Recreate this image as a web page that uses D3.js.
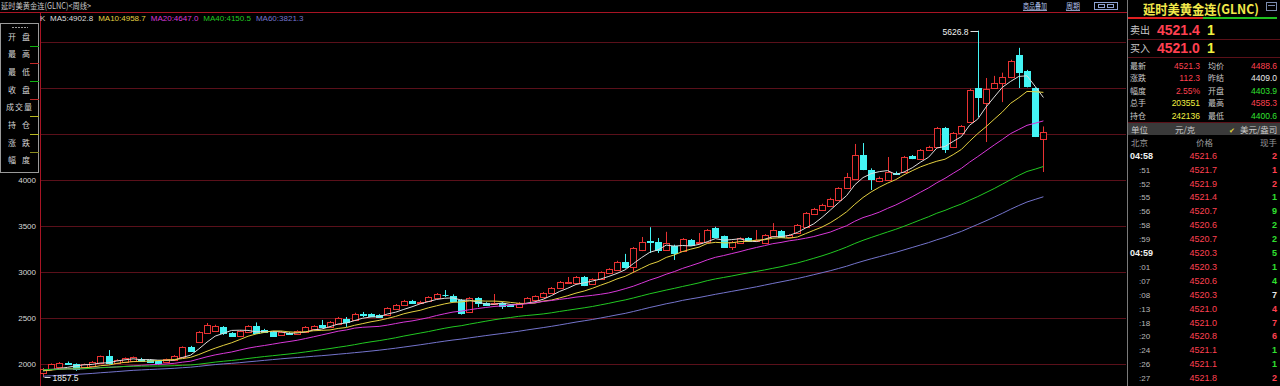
<!DOCTYPE html>
<html>
<head>
<meta charset="utf-8">
<script src="https://cdn.jsdelivr.net/npm/d3@7"></script>
<style>
  html, body { margin: 0; padding: 0; background: #000; overflow: hidden; }
  svg { display: block; }
  text { font-family: "Liberation Sans", Arial, sans-serif; }
  .cjk { font-family: "Noto Sans CJK SC", sans-serif; }
</style>
</head>
<body>
<div id="chart"></div>
<script>
// weekly candles, oldest first
const open = [
  1905,1949,1971,2014,2003,1971,1981,2014,2090,2014,
  2025,2036,2060,2047,2036,2025,2047,2079,2188,2242,
  2340,2365,2406,2340,2308,2351,2416,2373,2351,2319,
  2340,2329,2351,2384,2427,2406,2438,2492,2482,2547,
  2547,2536,2536,2601,2645,2688,2666,2688,2721,2755,
  2742,2699,2569,2721,2666,2660,2666,2645,2623,2666,
  2699,2731,2775,2829,2883,2883,2949,2873,2927,2992,
  3025,3112,3058,3242,3340,3329,3242,3286,3232,3351,
  3318,3329,3481,3394,3275,3318,3373,3340,3318,3394,
  3450,3384,3427,3492,3633,3677,3720,3786,3916,4014,
  4275,4112,3990,4003,4080,4090,4264,4231,4329,4362,
  4568,4362,4514,4633,5003,4840,5003,5058,5123,5362,
  5188,5003,4449
];
const high = [
  1960,2010,2025,2030,2010,2008,2035,2095,2155,2055,
  2075,2085,2070,2055,2045,2062,2100,2195,2200,2360,
  2449,2430,2415,2350,2370,2425,2455,2385,2360,2360,
  2350,2370,2415,2425,2482,2470,2515,2514,2560,2569,
  2555,2545,2620,2655,2700,2700,2690,2740,2775,2807,
  2760,2710,2730,2730,2675,2764,2675,2655,2675,2730,
  2750,2785,2840,2905,2949,2960,2960,2935,3010,3045,
  3125,3200,3275,3384,3490,3373,3440,3300,3372,3362,
  3427,3470,3495,3400,3340,3380,3382,3460,3415,3535,
  3460,3415,3525,3655,3700,3745,3810,3925,4080,4395,
  4405,4130,4040,4253,4095,4265,4275,4340,4375,4580,
  4580,4525,4600,4995,5626.8,5112,5135,5170,5310,5440,
  5200,5010,4585.3
];
const low = [
  1857.5,1935,1960,1995,1930,1965,1975,2008,2000,2005,
  2020,2030,2030,2015,1995,2018,2040,2075,2145,2235,
  2330,2355,2320,2300,2300,2345,2335,2345,2300,2310,
  2320,2320,2345,2375,2400,2400,2430,2406,2475,2514,
  2515,2505,2530,2595,2640,2655,2660,2680,2715,2731,
  2680,2540,2560,2623,2635,2650,2601,2625,2612,2660,
  2690,2725,2765,2820,2875,2875,2850,2865,2920,2985,
  3015,3040,2992,3230,3210,3210,3235,3134,3225,3290,
  3310,3320,3375,3265,3242,3310,3330,3335,3310,3385,
  3375,3375,3420,3485,3625,3670,3710,3775,3905,4005,
  4110,3895,3980,3995,4060,4080,4230,4220,4320,4355,
  4297,4350,4505,4625,4688,4416,4995,4850,5110,5003,
  5010,4470,4090
];
const close = [
  1949,2003,2014,2003,1949,2003,2025,2090,2014,2047,
  2068,2079,2040,2025,2014,2055,2090,2188,2150,2351,
  2427,2416,2340,2308,2362,2416,2340,2355,2308,2351,
  2330,2362,2406,2416,2406,2460,2503,2460,2547,2536,
  2525,2514,2612,2645,2688,2666,2677,2731,2764,2750,
  2688,2558,2721,2666,2645,2670,2634,2634,2666,2721,
  2742,2775,2829,2894,2894,2949,2862,2927,3003,3036,
  3112,3058,3264,3329,3325,3242,3318,3210,3362,3297,
  3329,3460,3384,3275,3329,3373,3340,3351,3405,3460,
  3384,3405,3514,3644,3688,3731,3797,3916,4036,4275,
  4123,4014,4025,4090,4068,4253,4242,4329,4362,4568,
  4340,4514,4590,4981,4905,4990,5058,5123,5297,5177,
  5025,4481,4521.3
];
// closes of the weeks before the first visible bar (only feed the moving averages)
const priorCloses = [
  1720,1725,1675,1680,1690,1700,1650,1660,1640,1645,
  1680,1770,1760,1755,1810,1800,1810,1800,1805,1826,
  1870,1900,1930,1930,1880,1875,1850,1815,1860,1870,
  1990,1995,1985,2010,2005,1990,2000,2025,2020,1980,
  1945,1970,1975,1970,1925,1930,1935,1960,1965,1960,
  1945,1935,1915,1920,1965,1945,1935,1945,1866
];

const maPeriods = [5, 10, 20, 40, 60];
const maLegend = ["4902.8", "4958.7", "4647.0", "4150.5", "3821.3"];
const yTicks = [2000, 2500, 3000, 3500, 4000];
const gridLevels = [2000, 2500, 3000, 3500, 4000, 4500, 5000, 5500];

const sideLabels = [["开","盘"],["最","高"],["最","低"],["收","盘"],["成","交","量"],["持","仓"],["涨","跌"],["幅","度"]];

const askPrice = "4521.4", askVol = "1", bidPrice = "4521.0", bidVol = "1";
const prevSettle = 4409.0;
const quoteNames = ["最新","均价","涨跌","昨结","幅度","开盘","总手","最高","持仓","最低"];
const quoteValues = ["4521.3","4488.6","112.3","4409.0","2.55%","4403.9","203551","4585.3","242136","4400.6"];

const tickTimes = ["04:58",":51",":52",":55",":56",":58",":59","04:59",":01",":07",":08",":13",":18",":20",":24",":26",":27"];
const tickPrices = [4521.6,4521.7,4521.9,4521.4,4520.7,4520.6,4520.7,4520.3,4520.3,4520.6,4520.3,4521.0,4521.0,4520.8,4521.1,4521.1,4521.8];
const tickVols = [2,1,2,1,9,2,2,5,1,4,7,4,7,6,1,1,2];
const tickSides = ["B","B","B","S","S","S","S","S","S","S","N","B","B","B","S","S","B"];

(function weekly() {
  const width = 1280, height = 386;
  const plotL = 40, plotR = 1127, plotT = 12;

  const RED = "#ff4050", GREEN = "#30e030", YELLOW = "#f0f040", WHITE = "#e8e8e8";
  const upColor = "#e83232", downColor = "#44f4f4";
  const maColors = ["#dcdcdc", "#e4d040", "#d838d8", "#22c822", "#7474cc"];

  const svg = d3.select("#chart").append("svg")
    .attr("width", width).attr("height", height);

  svg.append("rect").attr("width", width).attr("height", height).attr("fill", "#000");

  const x = d3.scaleLinear().domain([0, close.length - 1]).range([43, 1043.4]);
  const y = d3.scaleLinear().domain([2000, 4000]).range([364.3, 180.3]);

  // grid
  svg.append("g").selectAll("line").data(gridLevels).join("line")
    .attr("x1", plotL + 1).attr("x2", plotR - 1)
    .attr("y1", d => Math.round(y(d)) + 0.5).attr("y2", d => Math.round(y(d)) + 0.5)
    .attr("stroke", "#5a101a");

  // y axis
  const ax = svg.append("g")
    .attr("transform", `translate(${plotL - 3},0)`)
    .call(d3.axisLeft(y).tickValues(yTicks).tickSize(0).tickPadding(1).tickFormat(d3.format("d")));
  ax.select(".domain").remove();
  ax.selectAll("text")
    .attr("fill", "#d8d8d8")
    .attr("font-size", 8)
    .attr("font-family", "Liberation Sans, Arial, sans-serif");

  // frame lines
  svg.append("line").attr("x1", 0).attr("x2", plotR).attr("y1", plotT + 0.5).attr("y2", plotT + 0.5)
    .attr("stroke", "#a81424");
  svg.append("line").attr("x1", plotL + 0.5).attr("x2", plotL + 0.5).attr("y1", plotT).attr("y2", height)
    .attr("stroke", "#a81424");

  // candles
  const data = close.map((c, i) => ({ i, o: open[i], h: high[i], l: low[i], c }));
  const cg = svg.append("g");
  data.forEach(d => {
    const up = d.c > d.o;
    const col = up ? upColor : downColor;
    const cx = Math.round(x(d.i)) + 0.5;
    const top = Math.round(y(Math.max(d.o, d.c))) + 0.5;
    let bot = Math.round(y(Math.min(d.o, d.c))) + 0.5;
    cg.append("line")
      .attr("x1", cx).attr("x2", cx)
      .attr("y1", y(d.h)).attr("y2", y(d.l))
      .attr("stroke", col);
    if (bot - top < 1) {
      cg.append("line")
        .attr("x1", cx - 3).attr("x2", cx + 3)
        .attr("y1", top).attr("y2", top)
        .attr("stroke", col);
    } else {
      cg.append("rect")
        .attr("x", cx - 3).attr("y", top)
        .attr("width", 6).attr("height", bot - top)
        .attr("fill", up ? "#000" : downColor)
        .attr("stroke", col);
    }
  });

  // moving averages
  const allClose = priorCloses.concat(close);
  const off = priorCloses.length;
  maPeriods.forEach((n, k) => {
    const vals = close.map((c, i) => d3.mean(allClose.slice(i + off - n + 1, i + off + 1)));
    const line = d3.line().x((v, i) => x(i)).y(v => y(v));
    svg.append("path")
      .datum(vals)
      .attr("fill", "none")
      .attr("stroke", maColors[k])
      .attr("stroke-width", 1)
      .attr("d", line);
  });

  // high / low markers
  const hi = d3.maxIndex(high), lo = d3.minIndex(low);
  const hx = Math.round(x(hi)) + 0.5, hy = Math.round(y(high[hi])) + 0.5;
  svg.append("line").attr("x1", hx - 8).attr("x2", hx).attr("y1", hy).attr("y2", hy).attr("stroke", "#e0e0e0");
  svg.append("text").attr("x", hx - 10).attr("y", hy + 3).attr("text-anchor", "end")
    .attr("font-size", 8.5).attr("fill", "#f0f0f0").text(high[hi].toFixed(1));
  const lx = Math.round(x(lo)) + 0.5, ly = Math.round(y(low[lo])) + 0.5;
  svg.append("line").attr("x1", lx + 1).attr("x2", lx + 7).attr("y1", ly).attr("y2", ly).attr("stroke", "#e0e0e0");
  svg.append("text").attr("x", lx + 9).attr("y", ly + 3)
    .attr("font-size", 8.5).attr("fill", "#f0f0f0").text(low[lo].toFixed(1));

  // title bar
  svg.append("text").attr("class", "cjk")
    .attr("x", 1).attr("y", 9)
    .attr("font-size", 8.5).attr("fill", "#c8c8c8")
    .attr("textLength", 90).attr("lengthAdjust", "spacingAndGlyphs")
    .text("延时美黄金连(GLNC)<周线>");
  [["商品叠加", 1023, 24], ["周期", 1066, 14]].forEach(([t, tx, tl]) => {
    svg.append("text").attr("class", "cjk")
      .attr("x", tx).attr("y", 9)
      .attr("font-size", 8).attr("fill", "#b4c4ee")
      .attr("textLength", tl).attr("lengthAdjust", "spacingAndGlyphs")
      .attr("text-decoration", "underline")
      .text(t);
  });
  const icon = svg.append("g").attr("fill", "none").attr("stroke", "#8ea2d2");
  icon.append("rect").attr("x", 1094.5).attr("y", 2.5).attr("width", 23).attr("height", 7);
  icon.append("rect").attr("x", 1098.5).attr("y", 4.5).attr("width", 6).attr("height", 3);
  icon.append("rect").attr("x", 1107.5).attr("y", 4.5).attr("width", 6).attr("height", 3);

  // legend row
  svg.append("text").attr("x", 40).attr("y", 21).attr("font-size", 8).attr("fill", "#c8c8c8").text("K");
  let lxp = 50;
  maPeriods.forEach((n, k) => {
    const t = svg.append("text").attr("x", lxp).attr("y", 21)
      .attr("font-size", 8).attr("fill", maColors[k])
      .text(`MA${n}:${maLegend[k]}`);
    lxp += t.node().getComputedTextLength() + 5;
  });

  // left info panel
  const lp = svg.append("g");
  lp.append("rect").attr("x", 0.5).attr("y", 23.5).attr("width", 38).attr("height", 149)
    .attr("fill", "#000").attr("stroke", "#9a9a9a");
  lp.append("line").attr("x1", 12).attr("x2", 28).attr("y1", 27.5).attr("y2", 27.5)
    .attr("stroke", "#9a9a9a").attr("stroke-dasharray", "2,1");
  const marks = ["#10b010", "#c02828", "#10b010", "#c02828", "#b8b820", "#b8b820", "#8a8a20", null];
  sideLabels.forEach((chars, r) => {
    const cy = 36.5 + r * 17.7;
    const xs = chars.length === 2 ? [12, 26] : [10, 19, 28];
    chars.forEach((ch, j) => {
      lp.append("text").attr("class", "cjk")
        .attr("x", xs[j]).attr("y", cy + 3)
        .attr("text-anchor", "middle")
        .attr("font-size", 8).attr("fill", "#d4d4d4")
        .text(ch);
    });
    if (marks[r]) {
      lp.append("line").attr("x1", 30).attr("x2", 39)
        .attr("y1", Math.round(cy + 9) + 0.5).attr("y2", Math.round(cy + 9) + 0.5)
        .attr("stroke", marks[r]);
    }
  });

  // right quote panel
  const rp = svg.append("g");
  rp.append("rect").attr("x", plotR).attr("y", 0).attr("width", width - plotR).attr("height", height).attr("fill", "#000");
  rp.append("line").attr("x1", plotR + 0.5).attr("x2", plotR + 0.5).attr("y1", 0).attr("y2", height)
    .attr("stroke", "#7a7a7a");
  rp.append("text").attr("class", "cjk")
    .attr("x", 1143).attr("y", 14)
    .attr("font-size", 13).attr("font-weight", "bold").attr("fill", "#f2e84a")
    .attr("textLength", 116).attr("lengthAdjust", "spacingAndGlyphs")
    .text("延时美黄金连(GLNC)");
  rp.append("rect").attr("x", 1266.5).attr("y", 2.5).attr("width", 10).attr("height", 8)
    .attr("fill", "none").attr("stroke", "#7c8cae");
  rp.append("line").attr("x1", 1268).attr("x2", 1275).attr("y1", 5.5).attr("y2", 5.5).attr("stroke", "#7c8cae");
  rp.append("rect").attr("x", 1128).attr("y", 17).attr("width", 75).attr("height", 2).attr("fill", "#e02020");
  rp.append("rect").attr("x", 1203).attr("y", 17).attr("width", 74).attr("height", 2).attr("fill", "#20c020");

  [["卖出", askPrice, askVol, 35], ["买入", bidPrice, bidVol, 53]].forEach(([lab, p, v, by]) => {
    rp.append("text").attr("class", "cjk").attr("x", 1130).attr("y", by - 1)
      .attr("font-size", 10).attr("fill", "#c8c8c8").text(lab);
    rp.append("text").attr("x", 1157).attr("y", by)
      .attr("font-size", 14).attr("font-weight", "bold").attr("fill", RED).text(p);
    rp.append("text").attr("x", 1207).attr("y", by)
      .attr("font-size", 14).attr("font-weight", "bold").attr("fill", YELLOW).text(v);
  });
  [39.5, 57.5, 122.5].forEach(ly2 => {
    rp.append("line").attr("x1", 1128).attr("x2", width).attr("y1", ly2).attr("y2", ly2).attr("stroke", "#5a1018");
  });

  function quoteColor(name, val) {
    if (name === "总手" || name === "持仓") return YELLOW;
    const v = parseFloat(val);
    if (name === "涨跌" || name === "幅度") return v > 0 ? RED : v < 0 ? GREEN : WHITE;
    return v > prevSettle ? RED : v < prevSettle ? GREEN : WHITE;
  }
  quoteNames.forEach((name, k) => {
    const row = Math.floor(k / 2), col = k % 2;
    const by = 68.5 + row * 12.6;
    rp.append("text").attr("class", "cjk")
      .attr("x", col ? 1208 : 1130).attr("y", by)
      .attr("font-size", 8).attr("fill", "#c8c8c8").text(name);
    rp.append("text")
      .attr("x", col ? 1277 : 1200).attr("y", by)
      .attr("text-anchor", "end")
      .attr("font-size", 8.5).attr("fill", quoteColor(name, quoteValues[k]))
      .text(quoteValues[k]);
  });

  rp.append("rect").attr("x", 1128).attr("y", 123).attr("width", width - 1128).attr("height", 12).attr("fill", "#3a3a3a");
  rp.append("text").attr("class", "cjk").attr("x", 1131).attr("y", 132.5).attr("font-size", 8.5).attr("fill", "#c8c8c8").text("单位");
  rp.append("text").attr("class", "cjk").attr("x", 1175).attr("y", 132.5).attr("font-size", 8.5).attr("fill", "#c8c8c8").text("元/克");
  rp.append("text").attr("x", 1229).attr("y", 132.5).attr("font-family", "DejaVu Sans").attr("font-size", 7).attr("fill", "#e0d838").text("✔");
  rp.append("text").attr("class", "cjk").attr("x", 1240).attr("y", 132.5).attr("font-size", 8.5).attr("fill", "#c8c8c8").text("美元/盎司");

  rp.append("text").attr("class", "cjk").attr("x", 1131).attr("y", 145.5).attr("font-size", 8.5).attr("fill", "#9a9a9a").text("北京");
  rp.append("text").attr("class", "cjk").attr("x", 1196).attr("y", 145.5).attr("font-size", 8.5).attr("fill", "#9a9a9a").text("价格");
  rp.append("text").attr("class", "cjk").attr("x", 1277).attr("y", 145.5).attr("text-anchor", "end").attr("font-size", 8.5).attr("fill", "#9a9a9a").text("现手");

  const sideColor = { B: RED, S: GREEN, N: WHITE };
  tickTimes.forEach((t, k) => {
    const by = 155.5 + k * 13.9 + 3.2;
    const full = t.length > 3;
    rp.append("text")
      .attr("x", full ? 1130 : 1139).attr("y", by)
      .attr("font-size", full ? 9 : 8)
      .attr("font-weight", full ? "bold" : "normal")
      .attr("fill", full ? "#f0f0f0" : "#b8b8b8")
      .text(t);
    rp.append("text")
      .attr("x", 1217).attr("y", by).attr("text-anchor", "end")
      .attr("font-size", 9)
      .attr("fill", tickPrices[k] > prevSettle ? RED : tickPrices[k] < prevSettle ? GREEN : WHITE)
      .text(tickPrices[k].toFixed(1));
    rp.append("text")
      .attr("x", 1277).attr("y", by).attr("text-anchor", "end")
      .attr("font-size", 9).attr("font-weight", "bold")
      .attr("fill", sideColor[tickSides[k]])
      .text(tickVols[k]);
  });
})();
</script>
</body>
</html>
